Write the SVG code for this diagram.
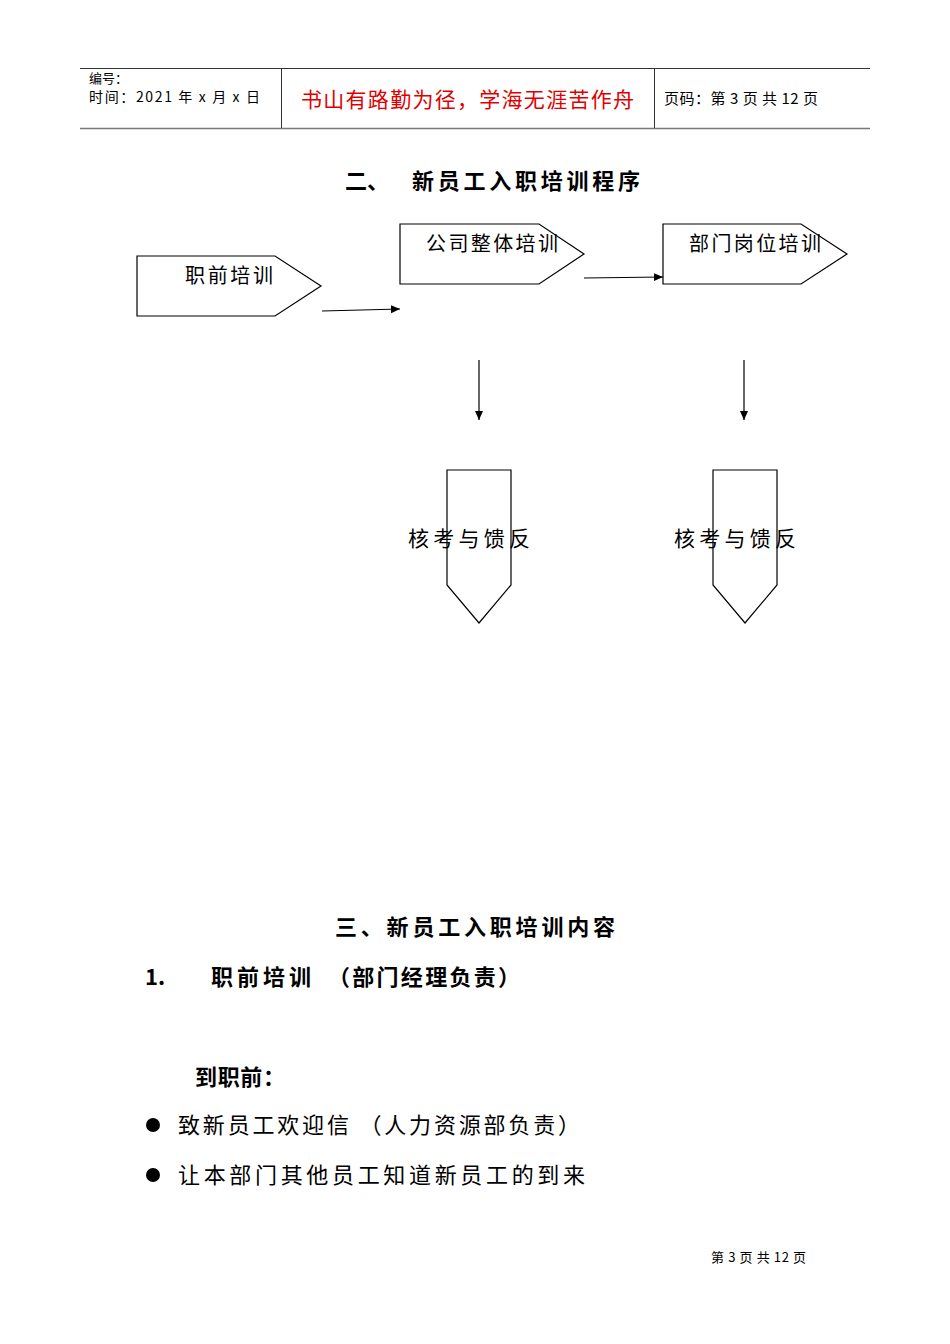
<svg xmlns="http://www.w3.org/2000/svg" width="950" height="1344" viewBox="0 0 950 1344">
<style>
.s{fill:#fff;stroke:#000;stroke-width:1.2}
.t{font-family:"Noto Sans CJK SC","Liberation Sans",sans-serif;fill:#000}
.c{stroke:#000;stroke-width:1.2;fill:none}
.b{font-weight:bold}
</style>
<defs><marker id="a" markerWidth="10" markerHeight="10" refX="9" refY="5" orient="auto" markerUnits="userSpaceOnUse"><path d="M0,1 L9,5 L0,9 Z" fill="#000"/></marker></defs>
<rect width="950" height="1344" fill="#fff"/>
<g id="header">
<line x1="80" y1="68.5" x2="870" y2="68.5" stroke="#333" stroke-width="1"/>
<line x1="80" y1="128.5" x2="870" y2="128.5" stroke="#777" stroke-width="1.5"/>
<line x1="281.5" y1="68" x2="281.5" y2="128" stroke="#333"/>
<line x1="654.5" y1="68" x2="654.5" y2="128" stroke="#333"/>
<text class="t" x="89" y="83" font-size="13">编号：</text>
<text class="t" x="89" y="102" font-size="14" textLength="171">时间：2021 年 x 月 x 日</text>
<text class="t" x="301" y="107" font-size="21" style="fill:#e00000" textLength="333">书山有路勤为径，学海无涯苦作舟</text>
<text class="t" x="664" y="104" font-size="15" textLength="154">页码：第 3 页 共 12 页</text>
</g>
<text class="t b" x="345" y="189" font-size="22">二、</text>
<text class="t b" x="412" y="189" font-size="22" textLength="228">新员工入职培训程序</text>
<g id="n1"><path class="s" d="M137,256 H275 L321,286 L275,316 H137 Z"/><text class="t" x="185" y="283" font-size="20" textLength="88">职前培训</text></g>
<g id="n2"><path class="s" d="M400,224 H539 L584,254 L539,284 H400 Z"/><text class="t" x="426" y="251" font-size="20" textLength="132">公司整体培训</text></g>
<g id="n3"><path class="s" d="M663,224 H801 L847,254 L801,284 H663 Z"/><text class="t" x="689" y="251" font-size="20" textLength="132">部门岗位培训</text></g>
<g id="n4"><path class="s" d="M447,470 H511 V585 L479,623 L447,585 Z"/><text class="t" x="408" y="546" font-size="21" textLength="122">核考与馈反</text></g>
<g id="n5"><path class="s" d="M713,470 H777 V585 L745,623 L713,585 Z"/><text class="t" x="674" y="546" font-size="21" textLength="122">核考与馈反</text></g>
<g id="connectors">
<line class="c" x1="322" y1="311" x2="400" y2="309" marker-end="url(#a)"/>
<line class="c" x1="584" y1="278" x2="663" y2="277" marker-end="url(#a)"/>
<line class="c" x1="479" y1="360" x2="479" y2="420" marker-end="url(#a)"/>
<line class="c" x1="744" y1="360" x2="744" y2="420" marker-end="url(#a)"/>
</g>
<text class="t b" x="335" y="935" font-size="22" textLength="280">三、新员工入职培训内容</text>
<text class="t b" x="145" y="985" font-size="22">1.</text>
<text class="t b" x="211" y="985" font-size="22" textLength="100">职前培训</text>
<text class="t b" x="328" y="985" font-size="22" textLength="192">（部门经理负责）</text>
<text class="t b" x="195" y="1085" font-size="22" textLength="90">到职前：</text>
<circle cx="153" cy="1125" r="7" fill="#000"/>
<text class="t" x="178" y="1133" font-size="22" textLength="402">致新员工欢迎信 （人力资源部负责）</text>
<circle cx="153" cy="1175" r="7" fill="#000"/>
<text class="t" x="178" y="1183" font-size="22" textLength="407">让本部门其他员工知道新员工的到来</text>
<text class="t" x="711" y="1262" font-size="13" textLength="95">第 3 页 共 12 页</text>
</svg>
